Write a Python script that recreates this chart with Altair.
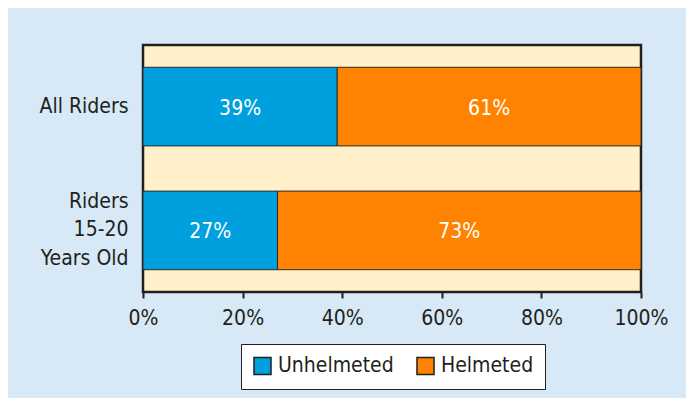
import altair as alt
import pandas as pd

categories = ["All Riders", "Riders|15-20|Years Old"]
groups = ["Unhelmeted", "Helmeted"]
unhelmeted = [39, 27]
helmeted = [61, 73]
colors = ["#00a0df", "#ff8200"]
x_ticks = [0, 20, 40, 60, 80, 100]

rows = []
for c, u, h in zip(categories, unhelmeted, helmeted):
    rows.append({"cat": c, "group": "Unhelmeted", "ord": 0, "value": u})
    rows.append({"cat": c, "group": "Helmeted", "ord": 1, "value": h})
df = pd.DataFrame(rows)

FONT = "DejaVu Sans Condensed, sans-serif"
FS = 21
TXT = "#231f20"

yenc = alt.Y(
    "cat:N",
    sort=categories,
    scale=alt.Scale(paddingInner=0.365, paddingOuter=0.18),
    axis=alt.Axis(
        title=None, ticks=False, domain=False, labelFont=FONT, labelFontSize=FS,
        labelColor=TXT, labelPadding=15, labelLineHeight=28.5,
        labelExpr="split(datum.label, '|')",
        labelOffset={"condition": {"test": "indexof(datum.value, '|') >= 0", "value": -28.5}, "value": 0},
    ),
)

base = alt.Chart(df)

bars = base.mark_bar(stroke="#2a2a2a", strokeWidth=1).encode(
    x=alt.X(
        "value:Q", stack="zero",
        scale=alt.Scale(domain=[0, 100], nice=False),
        axis=alt.Axis(
            title=None, values=x_ticks, labelExpr="datum.value + '%'",
            domain=False, grid=False, tickColor="#231f20", tickWidth=2,
            tickSize=6, labelFont=FONT, labelFontSize=FS, labelColor=TXT,
            labelPadding=9, labelFlush=False,
        ),
    ),
    y=yenc,
    color=alt.Color(
        "group:N",
        scale=alt.Scale(domain=groups, range=colors),
        legend=alt.Legend(
            title=None, orient="none", legendX=98, legendY=299,
            direction="horizontal", symbolType="square", symbolSize=290,
            symbolStrokeColor="#231f20", symbolStrokeWidth=1.5,
            labelFont=FONT, labelFontSize=FS, labelColor=TXT,
            labelOffset=5, columnPadding=19, padding=11,
            fillColor="white", strokeColor="#231f20",
        ),
    ),
    order=alt.Order("ord:Q"),
)

labels = base.transform_stack(
    stack="value", groupby=["cat"], as_=["v0", "v1"],
    sort=[alt.SortField("ord", order="ascending")],
).transform_calculate(
    mid="(datum.v0 + datum.v1) / 2",
    txt="datum.value + '%'",
).mark_text(
    color="white", font=FONT, fontSize=FS, baseline="middle", align="center", dy=2
).encode(
    x=alt.X("mid:Q"),
    y=alt.Y("cat:N", sort=categories),
    text="txt:N",
)

chart = (
    alt.layer(bars, labels)
    .properties(
        width=498, height=247,
        autosize=alt.AutoSizeParams(type="none"),
        padding={"left": 135, "top": 37, "right": 45, "bottom": 106},
        background="#d7e8f6",
    )
    .configure_view(fill="#fff0c9", stroke="#231f20", strokeWidth=2.5)
)

chart.save("out.html", embed_options={"renderer": "svg", "actions": False})
